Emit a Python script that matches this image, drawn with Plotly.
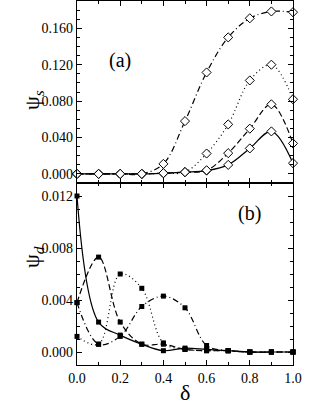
import plotly.graph_objects as go
from plotly.subplots import make_subplots

delta = [0.0, 0.1, 0.2, 0.3, 0.4, 0.5, 0.6, 0.7, 0.8, 0.9, 1.0]

# panel (a): psi_s
psi_s_solid   = [0.0, 0.0, 0.0, 0.0, 0.0008, 0.0019, 0.0036, 0.0099, 0.0280, 0.0467, 0.0118]
psi_s_dash    = [0.0, 0.0, 0.0, 0.0, 0.0008, 0.0019, 0.0040, 0.0228, 0.0497, 0.0765, 0.0335]
psi_s_dot     = [0.0, 0.0, 0.0, 0.0, 0.0008, 0.0020, 0.0224, 0.0544, 0.1027, 0.1200, 0.0820]
psi_s_dashdot = [0.0, 0.0, 0.0, 0.0, 0.0110, 0.0580, 0.1115, 0.1500, 0.1710, 0.1785, 0.1777]

# panel (b): psi_d
psi_d_solid   = [0.0120, 0.0023, 0.0013, 0.0006, 0.0001, 0.0003, 0.0002, 0.0001, 0.0000, 0.0000, 0.0000]
psi_d_dash    = [0.0038, 0.0073, 0.0023, 0.0006, 0.0006, 0.0002, 0.0001, 0.0001, 0.0000, 0.0000, 0.0000]
psi_d_dot     = [0.0012, 0.0006, 0.0060, 0.0049, 0.0007, 0.0002, 0.0001, 0.0001, 0.0000, 0.0000, 0.0000]
psi_d_dashdot = [0.0038, 0.0006, 0.0012, 0.0035, 0.0043, 0.0034, 0.0005, 0.0001, 0.0000, 0.0000, 0.0000]

ya_ticks = [0.0, 0.04, 0.08, 0.12, 0.16]
yb_ticks = [0.0, 0.004, 0.008, 0.012]
x_ticks = [0.0, 0.2, 0.4, 0.6, 0.8, 1.0]

FONT = "Liberation Serif, Times New Roman, serif"

fig = make_subplots(rows=2, cols=1, shared_xaxes=True, vertical_spacing=0.0)

styles = ["solid", "6px,3px", "1px,3px", "6px,3px,1px,3px"]

for ys, dash in zip([psi_s_solid, psi_s_dash, psi_s_dot, psi_s_dashdot], styles):
    fig.add_trace(go.Scatter(
        x=delta, y=ys, mode="lines+markers",
        line=dict(color="black", width=1.2, dash=dash, shape="spline", smoothing=1.0),
        marker=dict(symbol="diamond", size=7, color="white", line=dict(color="black", width=1)),
        cliponaxis=False, showlegend=False), row=1, col=1)

for ys, dash in zip([psi_d_solid, psi_d_dash, psi_d_dot, psi_d_dashdot], styles):
    fig.add_trace(go.Scatter(
        x=delta, y=ys, mode="lines+markers",
        line=dict(color="black", width=1.2, dash=dash, shape="spline", smoothing=1.0),
        marker=dict(symbol="square", size=5, color="black", line=dict(color="black", width=0)),
        cliponaxis=False, showlegend=False), row=2, col=1)

axis_common = dict(showline=True, linecolor="black", linewidth=1.3, mirror="ticks",
                   ticks="inside", ticklen=5, tickcolor="black", tickwidth=1,
                   showgrid=False, zeroline=False,
                   tickfont=dict(family=FONT, size=14, color="black"))

fig.update_xaxes(range=[0, 1], tickvals=x_ticks, tickformat=".1f",
                 minor=dict(dtick=0.1, tick0=0, ticks="inside", ticklen=3, tickcolor="black"),
                 **axis_common)
fig.update_xaxes(showticklabels=False, row=1, col=1)

fig.update_yaxes(range=[-0.01, 0.19], tickvals=ya_ticks, tickformat=".3f",
                 minor=dict(dtick=0.01, tick0=0, ticks="inside", ticklen=3, tickcolor="black"),
                 row=1, col=1, **axis_common)
fig.update_yaxes(range=[-0.001, 0.013], tickvals=yb_ticks, tickformat=".3f",
                 minor=dict(dtick=0.001, tick0=0, ticks="inside", ticklen=3, tickcolor="black"),
                 row=2, col=1, **axis_common)

fig.update_layout(
    width=317, height=416,
    margin=dict(l=77, r=24, t=1, b=51),
    plot_bgcolor="white", paper_bgcolor="white",
    font=dict(family=FONT, color="black"),
    annotations=[
        dict(text="(a)", x=0.14, y=0.875, xref="paper", yref="paper",
             showarrow=False, font=dict(family=FONT, size=20)),
        dict(text="(b)", x=0.86, y=0.415, xref="paper", yref="paper",
             showarrow=False, font=dict(family=FONT, size=20)),
        dict(text="ψ<sub><i>s</i></sub>", x=-0.275, y=0.76, xref="paper", yref="paper",
             textangle=-90, showarrow=False, font=dict(family=FONT, size=22)),
        dict(text="ψ<sub><i>d</i></sub>", x=-0.275, y=0.26, xref="paper", yref="paper",
             textangle=-90, showarrow=False, font=dict(family=FONT, size=22)),
        dict(text="δ", x=0.5, y=-0.115, xref="paper", yref="paper",
             showarrow=False, font=dict(family=FONT, size=22)),
    ],
)

fig.write_html("out.html", config={"displayModeBar": False},
               post_script="document.body.style.margin='0';")
